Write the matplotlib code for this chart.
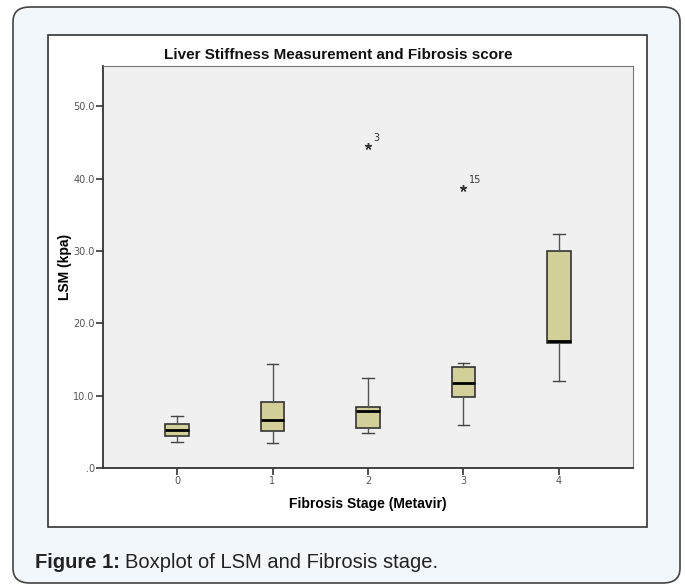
import matplotlib
matplotlib.use("Agg")
import matplotlib.pyplot as plt
from matplotlib.patches import FancyBboxPatch, Rectangle

stages = [0, 1, 2, 3, 4]
stage_labels = ["0", "1", "2", "3", "4"]
whis_lo = [3.6, 3.5, 4.9, 5.9, 12.0]
q1 = [4.4, 5.1, 5.5, 9.8, 17.3]
med = [5.3, 6.7, 7.9, 11.7, 17.6]
q3 = [6.1, 9.1, 8.4, 14.0, 30.0]
whis_hi = [7.2, 14.4, 12.5, 14.5, 32.4]
outlier_vals = [[], [], [44.5], [38.7], []]
outlier_ids = [[], [], ["3"], ["15"], []]
yticks = [0, 10, 20, 30, 40, 50]
ytick_labels = [".0", "10.0", "20.0", "30.0", "40.0", "50.0"]

fig = plt.figure(figsize=(6.85, 5.85), dpi=100)
fig.patch.set_facecolor("white")

W, H = 685.0, 585.0
panel = FancyBboxPatch((13 / W, 2 / H), (680 - 13) / W, (580 - 4) / H,
                       boxstyle="round,pad=0,rounding_size=0.025",
                       transform=fig.transFigure, facecolor="#f2f7fb",
                       edgecolor="#444444", linewidth=1.2, zorder=0)
fig.patches.append(panel)
frame = Rectangle((48 / W, 1 - 527 / H), (647 - 48) / W, (527 - 35) / H,
                  transform=fig.transFigure, facecolor="white",
                  edgecolor="#333333", linewidth=1.2, zorder=1)
fig.patches.append(frame)

ax = fig.add_axes([103 / W, 1 - 468 / H, (633 - 103) / W, (468 - 66) / H])
ax.set_zorder(3)
ax.set_facecolor("#f0f0f0")

stats = []
for i in range(len(stages)):
    stats.append(dict(med=med[i], q1=q1[i], q3=q3[i], whislo=whis_lo[i],
                      whishi=whis_hi[i], fliers=outlier_vals[i]))

ax.bxp(stats, positions=stages, widths=0.25, patch_artist=True,
       showfliers=False,
       boxprops=dict(facecolor="#d2d098", edgecolor="#333333", linewidth=1.2),
       medianprops=dict(color="black", linewidth=2.0),
       whiskerprops=dict(color="#555555", linewidth=1.0),
       capprops=dict(color="#444444", linewidth=1.0),
       capwidths=0.12)

for i, (vals, ids) in enumerate(zip(outlier_vals, outlier_ids)):
    for v, lab in zip(vals, ids):
        ax.plot(stages[i], v, marker=(5, 2, 0), color="#333333",
                markersize=5, markeredgewidth=1.0)
        ax.annotate(lab, (stages[i], v), xytext=(4, 4),
                    textcoords="offset points", fontsize=7, color="#333333")

ax.set_xlim(-0.775, 4.775)
ax.set_ylim(0, 55.6)
ax.set_xticks(stages)
ax.set_xticklabels(stage_labels)
ax.set_yticks(yticks)
ax.set_yticklabels(ytick_labels)
ax.tick_params(axis="both", direction="out", length=5, width=1.2,
               labelsize=7, labelcolor="#555555", color="#333333", pad=1)
for s in ["left", "bottom"]:
    ax.spines[s].set_color("#333333")
    ax.spines[s].set_linewidth(1.3)
for s in ["top", "right"]:
    ax.spines[s].set_color("#777777")
    ax.spines[s].set_linewidth(0.8)

ax.set_ylabel("LSM (kpa)", fontsize=10, fontweight="bold",
              family="Liberation Sans", labelpad=1)
ax.set_xlabel("Fibrosis Stage (Metavir)", fontsize=10, fontweight="bold",
              family="Liberation Sans", labelpad=8)

fig.text(338 / W, 1 - 55 / H, "Liver Stiffness Measurement and Fibrosis score",
         ha="center", va="center", fontsize=11, fontweight="bold",
         family="Liberation Sans", color="#111111", zorder=4)

fig.text(35 / W, 1 - 562 / H, "Figure 1:", ha="left", va="center",
         fontsize=14.5, fontweight="bold", family="Liberation Sans",
         color="#222222", zorder=4)
fig.text(125 / W, 1 - 562 / H, "Boxplot of LSM and Fibrosis stage.",
         ha="left", va="center", fontsize=14.5, family="Liberation Sans",
         color="#222222", zorder=4)

fig.savefig("out.png", dpi=100)
